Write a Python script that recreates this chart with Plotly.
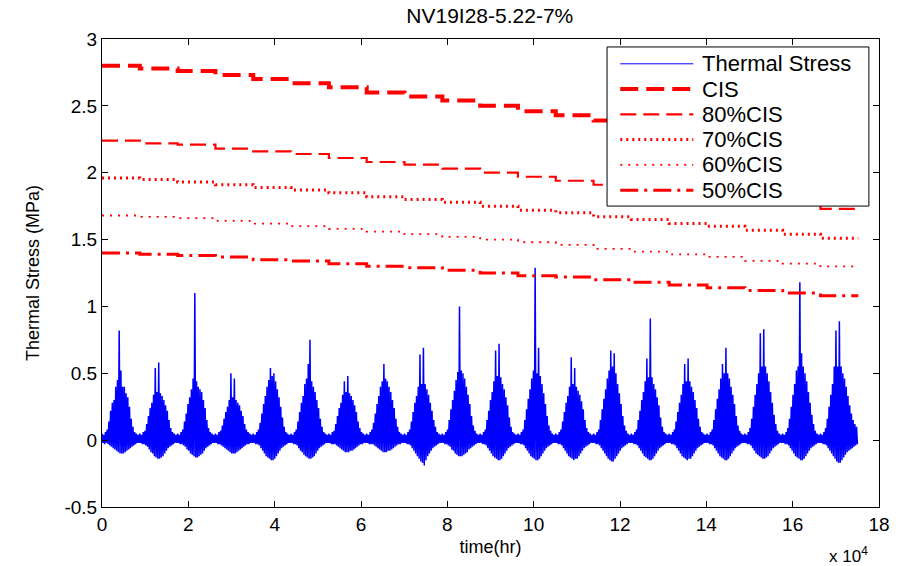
import numpy as np
import plotly.graph_objects as go

# ---------------- data ----------------
year_start_hr = [0, 8760, 17520, 26280, 35040, 43800, 52560, 61320, 70080, 78840,
                 87600, 96360, 105120, 113880, 122640, 131400, 140160, 148920, 157680, 166440, 175200]

cis     = [2.80, 2.78, 2.76, 2.73, 2.70, 2.67, 2.64, 2.60, 2.57, 2.54,
           2.50, 2.46, 2.43, 2.39, 2.35, 2.32, 2.28, 2.24, 2.20, 2.16, 2.16]
cis_80  = [2.24, 2.22, 2.21, 2.18, 2.16, 2.14, 2.11, 2.08, 2.06, 2.03,
           2.00, 1.97, 1.94, 1.91, 1.88, 1.86, 1.82, 1.79, 1.76, 1.73, 1.73]
cis_70  = [1.96, 1.95, 1.93, 1.91, 1.89, 1.87, 1.85, 1.82, 1.80, 1.78,
           1.75, 1.72, 1.70, 1.67, 1.65, 1.62, 1.60, 1.57, 1.54, 1.51, 1.51]
cis_60  = [1.68, 1.67, 1.66, 1.64, 1.62, 1.60, 1.58, 1.56, 1.54, 1.52,
           1.50, 1.48, 1.46, 1.43, 1.41, 1.39, 1.37, 1.34, 1.32, 1.30, 1.30]
cis_50  = [1.40, 1.39, 1.38, 1.37, 1.35, 1.34, 1.32, 1.30, 1.29, 1.27,
           1.25, 1.23, 1.22, 1.20, 1.18, 1.16, 1.14, 1.12, 1.10, 1.08, 1.08]

# thermal stress, one row per yearly cycle: successive local highs and local lows (MPa)
ts_highs = [
    [.05, .04, .06, .08, .14, .22, .28, .30, .40, .45, .82, .52, .40, .40, .35, .32, .25, .16, .10, .06, .05, .04],
    [.05, .04, .06, .07, .12, .18, .24, .28, .34, .54, .36, .58, .35, .33, .30, .26, .22, .15, .09, .06, .05, .04],
    [.05, .04, .06, .08, .14, .20, .27, .32, .38, .46, 1.10, .44, .40, .38, .36, .30, .24, .15, .09, .06, .05, .04],
    [.05, .04, .06, .07, .11, .16, .21, .25, .30, .50, .32, .46, .30, .28, .26, .22, .18, .12, .08, .06, .05, .04],
    [.05, .04, .06, .08, .13, .20, .27, .33, .40, .45, .54, .48, .50, .44, .38, .32, .25, .17, .10, .06, .05, .04],
    [.05, .04, .06, .08, .14, .21, .28, .33, .42, .46, .57, .75, .44, .40, .36, .30, .24, .16, .10, .06, .05, .04],
    [.05, .04, .06, .07, .12, .18, .24, .28, .34, .44, .36, .48, .35, .33, .30, .26, .21, .14, .09, .06, .05, .04],
    [.05, .04, .06, .08, .13, .20, .27, .33, .40, .44, .57, .46, .44, .40, .36, .30, .24, .16, .10, .06, .05, .04],
    [.05, .04, .06, .08, .14, .21, .28, .33, .40, .64, .42, .69, .42, .38, .34, .28, .22, .15, .10, .06, .05, .04],
    [.05, .04, .06, .08, .15, .23, .30, .37, .45, .51, 1.00, .52, .50, .46, .40, .34, .27, .18, .11, .07, .05, .04],
    [.05, .04, .06, .08, .15, .22, .30, .36, .44, .67, .48, .72, .47, .42, .38, .32, .26, .17, .10, .06, .05, .04],
    [.05, .04, .06, .08, .15, .23, .31, .38, .46, .52, 1.29, .50, .69, .48, .42, .35, .27, .18, .11, .07, .05, .04],
    [.05, .04, .06, .08, .14, .21, .28, .33, .40, .62, .42, .54, .40, .37, .34, .29, .23, .15, .09, .06, .05, .04],
    [.05, .04, .06, .08, .15, .23, .31, .38, .46, .52, .67, .55, .65, .50, .42, .35, .27, .18, .11, .07, .05, .04],
    [.05, .04, .06, .08, .15, .22, .30, .36, .44, .61, .47, .91, .47, .42, .38, .32, .26, .17, .10, .06, .05, .04],
    [.05, .04, .06, .08, .14, .21, .28, .34, .42, .57, .44, .61, .44, .40, .36, .30, .24, .16, .10, .06, .05, .04],
    [.05, .04, .06, .08, .15, .23, .31, .38, .46, .57, .50, .69, .50, .46, .40, .34, .27, .18, .11, .07, .05, .04],
    [.05, .04, .06, .09, .16, .25, .34, .42, .50, .80, .55, .83, .55, .50, .44, .36, .28, .19, .12, .07, .05, .04],
    [.05, .04, .06, .09, .16, .25, .34, .42, .52, .55, 1.18, .65, .55, .50, .44, .36, .28, .19, .12, .07, .05, .04],
    [.05, .04, .06, .09, .16, .25, .34, .42, .55, .82, .55, .89, .55, .50, .46, .40, .33, .26, .20, .15, .12, .10],
]
ts_lows = [
    [-.02, -.03, -.02, -.03, -.04, -.05, -.06, -.07, -.08, -.09, -.10, -.10, -.10, -.09, -.08, -.07, -.06, -.05, -.04, -.03, -.02, -.02],
    [-.02, -.03, -.03, -.04, -.05, -.07, -.09, -.10, -.12, -.13, -.14, -.14, -.13, -.12, -.10, -.08, -.06, -.05, -.04, -.03, -.02, -.02],
    [-.02, -.03, -.03, -.04, -.05, -.07, -.08, -.10, -.11, -.12, -.13, -.13, -.12, -.11, -.10, -.08, -.06, -.05, -.04, -.03, -.02, -.02],
    [-.02, -.03, -.03, -.04, -.05, -.06, -.07, -.08, -.09, -.10, -.10, -.10, -.09, -.08, -.07, -.06, -.05, -.04, -.03, -.03, -.02, -.02],
    [-.02, -.03, -.03, -.04, -.06, -.08, -.10, -.12, -.13, -.14, -.15, -.15, -.14, -.12, -.10, -.08, -.06, -.05, -.04, -.03, -.02, -.02],
    [-.02, -.03, -.03, -.04, -.06, -.08, -.09, -.11, -.12, -.13, -.14, -.14, -.13, -.12, -.10, -.08, -.06, -.05, -.04, -.03, -.02, -.02],
    [-.02, -.03, -.03, -.03, -.04, -.05, -.06, -.07, -.08, -.09, -.09, -.09, -.08, -.08, -.07, -.06, -.05, -.04, -.03, -.03, -.02, -.02],
    [-.02, -.03, -.03, -.03, -.04, -.05, -.06, -.07, -.08, -.09, -.09, -.09, -.08, -.08, -.07, -.06, -.05, -.04, -.03, -.03, -.02, -.02],
    [-.02, -.03, -.03, -.04, -.06, -.08, -.10, -.12, -.14, -.16, -.17, -.19, -.15, -.12, -.10, -.08, -.06, -.05, -.04, -.03, -.02, -.02],
    [-.02, -.03, -.03, -.04, -.05, -.07, -.08, -.10, -.11, -.12, -.12, -.12, -.11, -.10, -.09, -.07, -.06, -.05, -.04, -.03, -.02, -.02],
    [-.02, -.03, -.03, -.04, -.06, -.08, -.10, -.12, -.13, -.14, -.15, -.15, -.14, -.12, -.10, -.08, -.06, -.05, -.04, -.03, -.02, -.02],
    [-.02, -.03, -.03, -.04, -.06, -.08, -.10, -.12, -.13, -.14, -.15, -.15, -.14, -.12, -.10, -.08, -.06, -.05, -.04, -.03, -.02, -.02],
    [-.02, -.03, -.03, -.04, -.06, -.08, -.10, -.12, -.13, -.14, -.15, -.14, -.14, -.12, -.10, -.08, -.06, -.05, -.04, -.03, -.02, -.02],
    [-.02, -.03, -.03, -.04, -.06, -.08, -.10, -.12, -.14, -.15, -.16, -.16, -.14, -.12, -.10, -.08, -.06, -.05, -.04, -.03, -.02, -.02],
    [-.02, -.03, -.03, -.04, -.06, -.08, -.10, -.12, -.13, -.14, -.15, -.15, -.14, -.12, -.10, -.08, -.06, -.05, -.04, -.03, -.02, -.02],
    [-.02, -.03, -.03, -.04, -.06, -.08, -.10, -.12, -.13, -.14, -.15, -.14, -.14, -.12, -.10, -.08, -.06, -.05, -.04, -.03, -.02, -.02],
    [-.02, -.03, -.03, -.04, -.06, -.08, -.10, -.12, -.13, -.14, -.15, -.15, -.14, -.12, -.10, -.08, -.06, -.05, -.04, -.03, -.02, -.02],
    [-.02, -.03, -.03, -.04, -.06, -.08, -.10, -.11, -.12, -.13, -.14, -.14, -.13, -.12, -.10, -.08, -.06, -.05, -.04, -.03, -.02, -.02],
    [-.02, -.03, -.03, -.04, -.06, -.08, -.10, -.12, -.13, -.14, -.15, -.15, -.14, -.12, -.10, -.08, -.06, -.05, -.04, -.03, -.02, -.02],
    [-.02, -.03, -.03, -.04, -.06, -.08, -.10, -.12, -.14, -.16, -.17, -.17, -.15, -.13, -.11, -.09, -.08, -.07, -.06, -.05, -.04, -.03],
]
total_hours = 175200

x_ticks = [0, 20000, 40000, 60000, 80000, 100000, 120000, 140000, 160000, 180000]
x_tick_text = ["0", "2", "4", "6", "8", "10", "12", "14", "16", "18"]
y_ticks = [-0.5, 0, 0.5, 1, 1.5, 2, 2.5, 3]
y_tick_text = ["-0.5", "0", "0.5", "1", "1.5", "2", "2.5", "3"]

# ---------------- assemble ----------------
ts_values = []
for hi, lo in zip(ts_highs, ts_lows):
    for h, l in zip(hi, lo):
        ts_values.append(h)
        ts_values.append(l)
dt = total_hours / len(ts_values)
ts_time = np.arange(len(ts_values)) * dt

FONT = "Liberation Sans, Arial, sans-serif"
RED = "#ff0000"
BLUE = "#0000ff"

fig = go.Figure()
fig.add_trace(go.Scatter(x=ts_time, y=ts_values, mode="lines", name="Thermal Stress",
                         line=dict(color=BLUE, width=1.5), showlegend=False))
styles = [
    ("CIS", cis, dict(color=RED, width=4, dash="18px,8px")),
    ("80%CIS", cis_80, dict(color=RED, width=2.2, dash="16px,7px")),
    ("70%CIS", cis_70, dict(color=RED, width=3, dash="2px,4px")),
    ("60%CIS", cis_60, dict(color=RED, width=1.8, dash="2px,6px")),
    ("50%CIS", cis_50, dict(color=RED, width=3, dash="18px,6px,3px,6px")),
]
for name, vals, ln in styles:
    fig.add_trace(go.Scatter(x=year_start_hr, y=vals, mode="lines", name=name,
                             line=dict(shape="hv", **ln), showlegend=False))

axis_common = dict(showline=True, linecolor="black", linewidth=1, mirror="ticks",
                   ticks="inside", ticklen=6, tickcolor="black", showgrid=False,
                   zeroline=False, tickfont=dict(family=FONT, size=19, color="black"))

fig.update_layout(
    width=902, height=566,
    margin=dict(l=102, r=23, t=39, b=59),
    paper_bgcolor="white", plot_bgcolor="white",
    title=dict(text="NV19I28-5.22-7%", x=0.543, xanchor="center", y=0.985, yanchor="top",
               font=dict(family=FONT, size=21, color="black")),
    xaxis=dict(range=[0, 180000], tickvals=x_ticks, ticktext=x_tick_text,
               title=dict(text="time(hr)", font=dict(family=FONT, size=18, color="black"), standoff=6),
               **axis_common),
    yaxis=dict(range=[-0.5, 3], tickvals=y_ticks, ticktext=y_tick_text,
               title=dict(text="Thermal Stress (MPa)", font=dict(family=FONT, size=18, color="black"), standoff=20),
               **axis_common),
    showlegend=False,
)

# legend box drawn as a MATLAB-style legend (paper coordinates)
leg_x0, leg_x1, leg_y0, leg_y1 = 0.650, 0.987, 0.643, 0.983
fig.add_shape(type="rect", xref="paper", yref="paper", x0=leg_x0, x1=leg_x1, y0=leg_y0, y1=leg_y1,
              line=dict(color="black", width=1), fillcolor="white", layer="above")
legend_rows = [("Thermal Stress", dict(color=BLUE, width=1))] + [(n, ln) for n, _, ln in styles]
row_y = [0.947, 0.893, 0.839, 0.785, 0.731, 0.677]
for (label, ln), yy in zip(legend_rows, row_y):
    fig.add_shape(type="line", xref="paper", yref="paper", x0=0.667, x1=0.761, y0=yy, y1=yy,
                  line=ln, layer="above")
    fig.add_annotation(text=label, xref="paper", yref="paper", x=0.769, y=yy,
                       xanchor="left", yanchor="middle", showarrow=False,
                       font=dict(family=FONT, size=22, color="black"))

fig.add_annotation(text="x 10<sup>4</sup>", xref="paper", yref="paper", x=0.988, y=-0.075,
                   xanchor="right", yanchor="top", showarrow=False,
                   font=dict(family=FONT, size=17, color="black"))

fig.write_html("out.html")
